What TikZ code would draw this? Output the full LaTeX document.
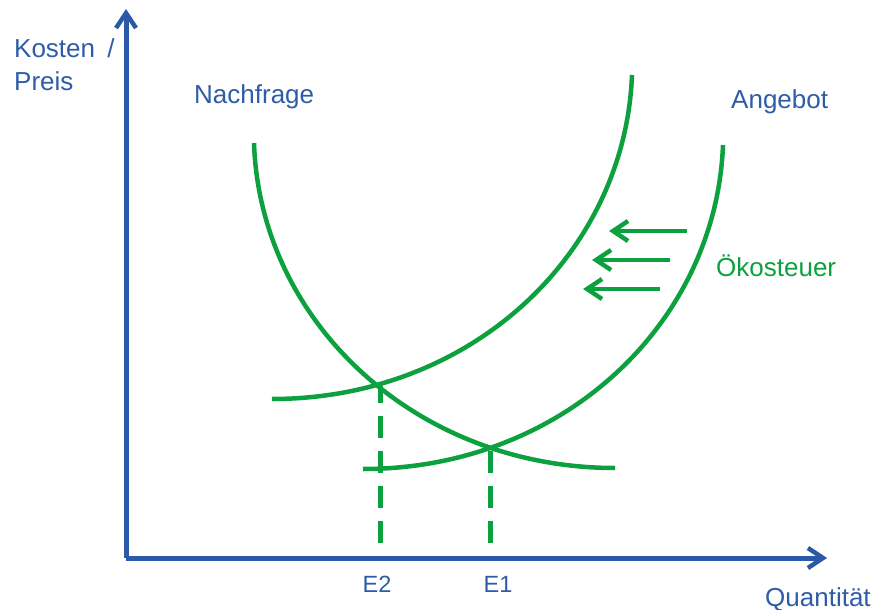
\documentclass[tikz,border=0pt]{standalone}
\usepackage{fontspec}
\setmainfont{Liberation Sans}
\usetikzlibrary{arrows.meta}
\definecolor{axisblue}{RGB}{42,89,168}
\definecolor{txtblue}{RGB}{46,92,166}
\definecolor{curvegreen}{RGB}{12,160,62}
\begin{document}
\begin{tikzpicture}[x=1pt,y=-1pt,
  axis/.style={draw=axisblue,line width=5pt,-{Straight Barb[length=15pt,width=20pt,line width=4.5pt]}},
  curve/.style={draw=curvegreen,line width=4.5pt},
  shiftarrow/.style={draw=curvegreen,line width=4.5pt,-{Straight Barb[length=15pt,width=20pt,line width=4.5pt]}},
  drop/.style={draw=curvegreen,line width=5pt,dash pattern=on 22pt off 13pt},
  lbl/.style={font=\fontsize{26}{30}\selectfont,text=txtblue,inner sep=0pt},
  elbl/.style={font=\fontsize{23.5}{27}\selectfont,text=txtblue,inner sep=0pt},
  glbl/.style={font=\fontsize{26}{30}\selectfont,text=curvegreen,inner sep=0pt}]
\useasboundingbox (0,0) rectangle (876,610);
% axes
\coordinate (origin) at (126,558);
\coordinate (ytip) at (126,9);
\coordinate (xtip) at (827,558);
\draw[axis] (origin) -- (ytip);
\draw[axis] (origin) -- (xtip);
% curves
\draw[curve] (254,143) .. controls (260,322) and (416,468) .. (615,468);
\draw[curve] (363,469) .. controls (562,469) and (716,324) .. (723,145);
\draw[curve] (272,399) .. controls (471,399) and (625,254) .. (632,75);
% intersections
\coordinate (e2) at (380,386);
\coordinate (e1) at (490,448);
\coordinate (e2b) at (380,543);
\coordinate (e1b) at (490,543);
\draw[drop] (e2b) -- (e2);
\draw[drop] (e1b) -- (e1);
% shift arrows
\coordinate (a1s) at (687,231); \coordinate (a1e) at (609,231);
\coordinate (a2s) at (670,260); \coordinate (a2e) at (592,260);
\coordinate (a3s) at (660,289); \coordinate (a3e) at (583,289);
\draw[shiftarrow] (a1s) -- (a1e);
\draw[shiftarrow] (a2s) -- (a2e);
\draw[shiftarrow] (a3s) -- (a3e);
% labels
\node[lbl,anchor=base west] (kosten) at (14,58) {Kosten\hspace{5pt} /};
\node[lbl,anchor=base west] (preis) at (14,91) {Preis};
\node[lbl,anchor=base west] (nachfrage) at (194,103) {Nachfrage};
\node[lbl,anchor=base west] (angebot) at (731,108) {Angebot};
\node[glbl,anchor=base west] (oeko) at (716,276) {Ökosteuer};
\node[elbl,anchor=base] (e2l) at (377,592) {E2};
\node[elbl,anchor=base] (e1l) at (498,592) {E1};
\node[lbl,anchor=base west] (quant) at (765,606) {Quantität};
\end{tikzpicture}
\end{document}
